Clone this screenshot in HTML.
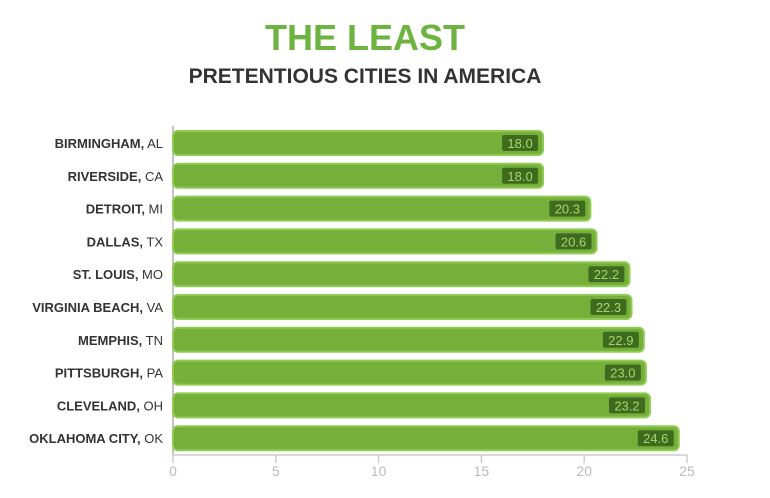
<!DOCTYPE html>
<html><head><meta charset="utf-8"><style>
body{margin:0;background:#fff;width:770px;height:493px;overflow:hidden;font-family:"Liberation Sans",sans-serif}
</style></head><body>
<svg id="chart" width="770" height="493">
<text x="365" y="50" text-anchor="middle" font-size="36" font-weight="bold" fill="#6db33f" font-family="Liberation Sans, sans-serif">THE LEAST</text>
<text x="365" y="83" text-anchor="middle" font-size="21" font-weight="bold" fill="#333" font-family="Liberation Sans, sans-serif">PRETENTIOUS CITIES IN AMERICA</text>
<g id="plot"></g>
</svg>
<script>
const cities=["BIRMINGHAM,","RIVERSIDE,","DETROIT,","DALLAS,","ST. LOUIS,","VIRGINIA BEACH,","MEMPHIS,","PITTSBURGH,","CLEVELAND,","OKLAHOMA CITY,"];
const states=["AL","CA","MI","TX","MO","VA","TN","PA","OH","OK"];
const values=[18.0,18.0,20.3,20.6,22.2,22.3,22.9,23.0,23.2,24.6];
const ticks=[0,5,10,15,20,25];
const NS="http://www.w3.org/2000/svg";
const g=document.getElementById('plot');
const x=v=>173+v*(687-173)/25;
const y=i=>143+i*32.8;
function mk(t,a){const e=document.createElementNS(NS,t);for(const k in a)e.setAttribute(k,a[k]);g.appendChild(e);return e;}
const ax=mk('line',{x1:173,y1:126,x2:173,y2:455,stroke:'#888','stroke-width':1});


const bx=mk('line',{x1:173,y1:455,x2:687,y2:455,stroke:'#ccc','stroke-width':1.5});


ticks.forEach(t=>{
 const l=mk('line',{x1:x(t),y1:455,x2:x(t),y2:463,stroke:'#ccc','stroke-width':1.5});
 
 
 const tx=mk('text',{x:x(t),y:476,'text-anchor':'middle','font-size':14,fill:'#bbb'});
 tx.textContent=t;
 
 
});
values.forEach((v,i)=>{
 const cy=y(i);
 const r=mk('rect',{x:173,y:cy-12,width:x(v)-173,height:24,rx:5,fill:'#76b03a',stroke:'#8fcb52','stroke-width':2});
 
 
 const bw=36;
 const b=mk('rect',{x:x(v)-bw-5,y:cy-8,width:bw,height:16,rx:2,fill:'#3f6b1f'});
 
 
 const vt=mk('text',{x:x(v)-5-bw/2,y:cy+5,'text-anchor':'middle','font-size':13,fill:'#a6d66a'});
 vt.textContent=v.toFixed(1);
 
 
 const lt=mk('text',{x:163,y:cy+5,'text-anchor':'end','font-size':13,fill:'#333'});
 lt.innerHTML='<tspan font-weight="bold">'+cities[i]+'</tspan> '+states[i];
 
 
});
</script>
</body></html>
